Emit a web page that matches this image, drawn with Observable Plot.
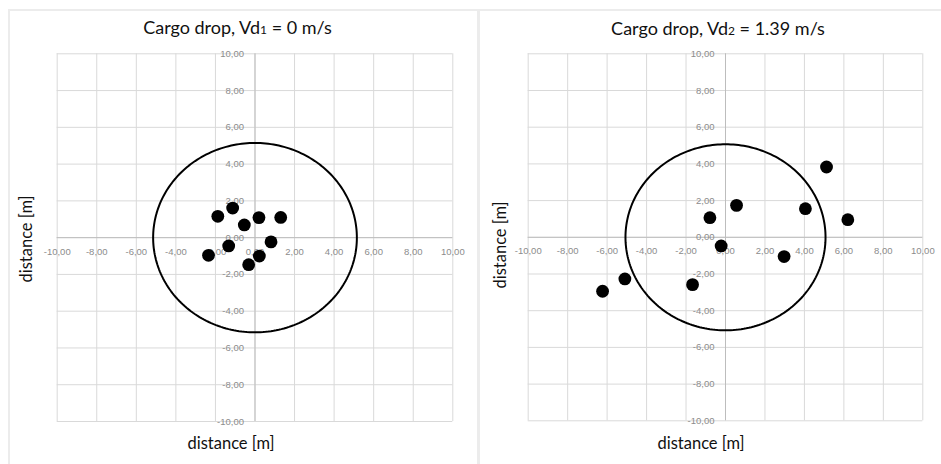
<!DOCTYPE html>
<html>
<head>
<meta charset="utf-8">
<script src="https://cdn.jsdelivr.net/npm/d3@7"></script>
<script src="https://cdn.jsdelivr.net/npm/@observablehq/plot@0.6"></script>
<style>
  html, body { margin: 0; padding: 0; background: #fff; }
  #wrap { position: relative; width: 941px; height: 464px; overflow: hidden; background: #fff; font-family: Lato, "Open Sans", sans-serif; }
  .panel { position: absolute; top: 0; }
  .lbl { position: absolute; color: #111; white-space: nowrap; transform: translate(-50%, -50%); }
  .title { font-size: 18px; }
  .title sub { font-size: 12px; vertical-align: baseline; }
  .axt { font-size: 16.5px; }
  .line { position: absolute; background: #ececec; }
</style>
</head>
<body>
<div id="wrap">
  <div class="line" style="left:9px;top:9px;width:932px;height:2px;"></div>
  <div class="line" style="left:8px;top:9px;width:2px;height:455px;"></div>
  <div class="line" style="left:477px;top:9px;width:3px;height:455px;"></div>
</div>
<script>
// ---- data ----
const ticks = [-10, -8, -6, -4, -2, 0, 2, 4, 6, 8, 10];

// Panel 1: Vd1 = 0 m/s
const drop1X = [-1.88, -1.13, -0.54, 0.20, 1.30, -1.33, 0.81, -2.35, 0.22, -0.32];
const drop1Y = [1.16, 1.61, 0.69, 1.09, 1.10, -0.45, -0.23, -0.96, -1.00, -1.47];
const radius1 = 5.15;

// Panel 2: Vd2 = 1.39 m/s
const drop2X = [-6.23, -5.10, -1.67, -0.79, -0.22, 0.56, 2.97, 4.05, 5.12, 6.20];
const drop2Y = [-2.94, -2.27, -2.58, 1.07, -0.47, 1.74, -1.05, 1.56, 3.83, 0.96];
const radius2 = 5.07;

const titles = [
  {pre: "Cargo drop, Vd", sub: "1", post: " = 0 m/s"},
  {pre: "Cargo drop, Vd", sub: "2", post: " = 1.39 m/s"}
];
const axisTitle = "distance [m]";

// ---- helpers ----
const fmt = d => d.toFixed(2).replace(".", ",");
function circle(r) {
  const n = 240;
  return d3.range(n + 1).map(i => {
    const a = (i / n) * 2 * Math.PI;
    return {x: r * Math.cos(a), y: r * Math.sin(a)};
  });
}

function panel(xs, ys, r, opts) {
  const pts = xs.map((x, i) => ({x, y: ys[i]}));
  return Plot.plot({
    width: opts.width,
    height: 464,
    marginLeft: opts.ml,
    marginRight: opts.mr,
    marginTop: 53.3,
    marginBottom: opts.mb,
    x: {domain: [-10, 10], axis: null},
    y: {domain: [-10, 10], axis: null},
    style: {background: "transparent", overflow: "visible"},
    marks: [
      Plot.ruleX(ticks, {x: d => d, stroke: "#d9d9d9", strokeWidth: 1}),
      Plot.ruleY(ticks, {y: d => d, stroke: "#d9d9d9", strokeWidth: 1}),
      Plot.ruleX([0], {stroke: "#bdbdbd", strokeWidth: 1}),
      Plot.ruleY([0], {stroke: "#bdbdbd", strokeWidth: 1}),
      Plot.text(ticks, {x: d => d, y: () => 0, text: fmt, dy: 14, fill: "#8c8c8c", fontSize: 9.5, fontFamily: "Liberation Sans, Arial, sans-serif"}),
      Plot.text(ticks, {x: () => 0, y: d => d, text: fmt, dx: -11, textAnchor: "end", fill: "#8c8c8c", fontSize: 9.5, fontFamily: "Liberation Sans, Arial, sans-serif"}),
      Plot.line(circle(r), {x: "x", y: "y", stroke: "#000", strokeWidth: 2}),
      Plot.dot(pts, {x: "x", y: "y", r: 6.4, fill: "#000", stroke: "none"})
    ]
  });
}

const wrap = document.getElementById("wrap");

const p1 = panel(drop1X, drop1Y, radius1, {width: 470, ml: 56.7, mr: 17.7, mb: 43});
p1.classList.add("panel"); p1.style.left = "0px";
wrap.appendChild(p1);

const p2 = panel(drop2X, drop2Y, radius2, {width: 471, ml: 57.7, mr: 18.7, mb: 43.7});
p2.classList.add("panel"); p2.style.left = "470px";
wrap.appendChild(p2);

function label(html, cls, x, y, rot) {
  const d = document.createElement("div");
  d.className = "lbl " + cls;
  d.innerHTML = html;
  d.style.left = x + "px";
  d.style.top = y + "px";
  if (rot) d.style.transform = "translate(-50%, -50%) rotate(-90deg)";
  wrap.appendChild(d);
}
const t = titles.map(o => `${o.pre}<sub>${o.sub}</sub>${o.post}`);
label(t[0], "title", 237.5, 27, false);
label(t[1], "title", 718, 28, false);
label(axisTitle, "axt", 231, 443, false);
label(axisTitle, "axt", 701, 443, false);
label(axisTitle, "axt", 26, 239, true);
label(axisTitle, "axt", 500, 245, true);
</script>
</body>
</html>
